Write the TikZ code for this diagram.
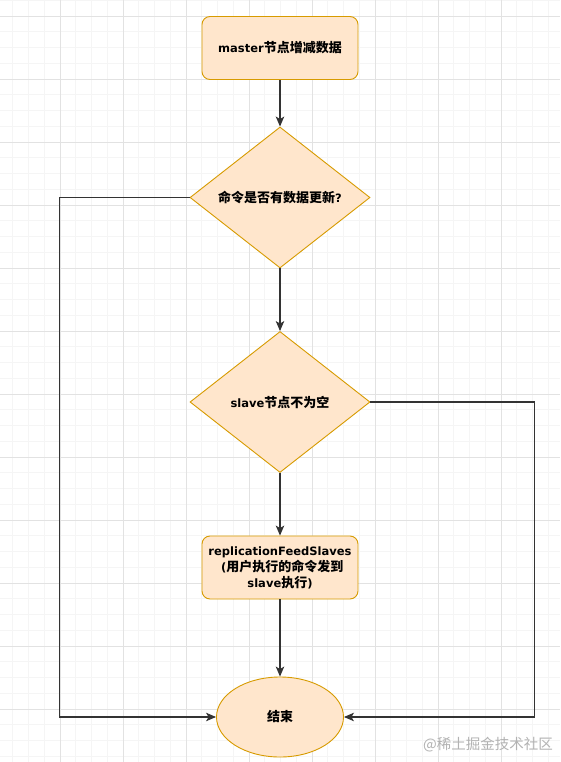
\documentclass[tikz,border=0pt]{standalone}
\usepackage{fontspec}
\setmainfont{DejaVu Sans}
\newfontfamily\cjk{Noto Sans CJK SC}
\usetikzlibrary{shapes.geometric,arrows.meta}
\newcommand\zh[1]{{\cjk\fontsize{13}{16}\selectfont #1}}
\definecolor{fillc}{HTML}{FFE6CC}
\definecolor{drawc}{HTML}{D79B00}
\definecolor{linec}{HTML}{333333}
\definecolor{gridminor}{HTML}{F5F5F5}
\definecolor{gridmajor}{HTML}{E2E2E2}
\tikzset{
  shapebase/.style={draw=drawc, fill=fillc, line width=0.9pt, text=black,
    font=\fontsize{11.5}{16}\selectfont\bfseries, align=center, inner sep=0pt},
  procbox/.style={shapebase, rectangle, rounded corners=8pt, minimum width=156pt, minimum height=63pt},
  decision/.style={shapebase, diamond, minimum width=180pt, minimum height=141pt},
  terminal/.style={shapebase, ellipse, minimum width=127pt, minimum height=80pt},
  conn/.style={draw=linec, line width=1.1pt, -{Stealth[length=10pt,width=8.5pt,inset=2.5pt]}},
}
\begin{document}
\begin{tikzpicture}[x=1pt,y=-1pt]
\useasboundingbox (0,0) rectangle (560,762);
\fill[white] (0,0) rectangle (560,762);
% grid
\foreach \x in {12.75,28.5,...,560} \draw[gridminor, line width=0.6pt] (\x,0) -- (\x,762);
\foreach \y in {0.25,16,...,762} \draw[gridminor, line width=0.6pt] (0,\y) -- (560,\y);
\foreach \x in {60,123,...,560} \draw[gridmajor, line width=0.7pt] (\x,0) -- (\x,762);
\foreach \y in {16,79,...,762} \draw[gridmajor, line width=0.7pt] (0,\y) -- (560,\y);

\node[procbox] (start) at (280,48) {master\zh{节点增减数据}};
\node[decision] (d1) at (280,197.5) {\zh{命令是否有数据更新}?};
\node[decision] (d2) at (280,402) {slave\zh{节点不为空}};
\node[procbox] (feed) at (280,567.5) {replicationFeedSlaves\\ \hspace*{0.4em}(\zh{用户执行的命令发到}\\slave\zh{执行})};
\node[terminal] (end) at (280,717) {\zh{结束}};

\draw[conn] (start.south) -- (d1.north);
\draw[conn] (d1.south) -- (d2.north);
\draw[conn] (d2.south) -- (feed.north);
\draw[conn] (feed.south) -- (end.north);
\draw[conn] (d1.west) -- ++(-130,0) |- (end.west);
\draw[conn] (d2.east) -- ++(164,0) |- (end.east);

\node[anchor=west, text=black!30, inner sep=0pt] (wm) at (423,745)
  {{\cjk\fontsize{14.5}{16}\selectfont @稀土掘金技术社区}};
\end{tikzpicture}
\end{document}
